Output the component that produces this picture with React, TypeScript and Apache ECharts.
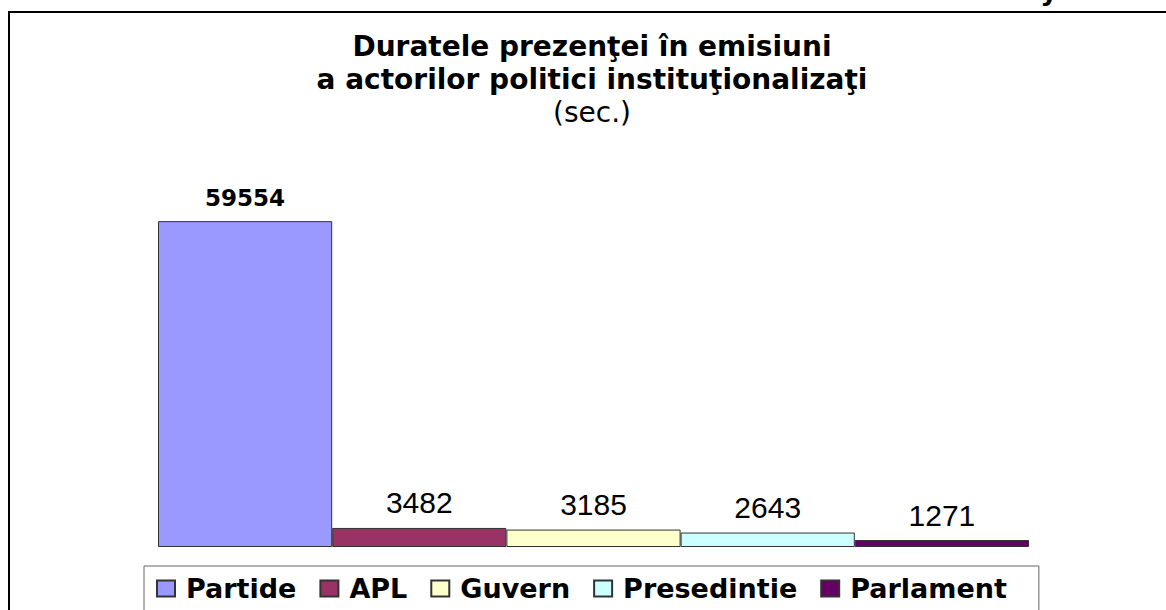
import React, { useEffect, useRef } from "react";
import * as echarts from "echarts";

const seriesNames = ["Partide", "APL", "Guvern", "Presedintie", "Parlament"];
const seriesValues = [59554, 3482, 3185, 2643, 1271];
const seriesColors = ["#9999FF", "#993366", "#FFFFCC", "#CCFFFF", "#660066"];
const categories = ["Durate"];
const titleLines = ["Duratele prezenţei în emisiuni", "a actorilor politici instituţionalizaţi"];
const subtitleText = "(sec.)";

export default function App() {
  const ref = useRef<HTMLDivElement>(null);
  useEffect(() => {
    if (!ref.current) return;
    const chart = echarts.init(ref.current, null, { renderer: "svg" });
    const series = seriesNames.map((name, i) => ({
      name,
      type: "bar",
      data: [seriesValues[i]],
      barGap: "0%",
      barCategoryGap: "0%",
      itemStyle: { color: seriesColors[i], borderColor: "#333333", borderWidth: 1 },
      label: {
        show: true,
        position: "top",
        distance: i === 0 ? 12 : 10,
        color: "#000",
        fontFamily: i === 0 ? "DejaVu Sans" : "Liberation Sans",
        fontWeight: i === 0 ? "bold" : "normal",
        fontSize: i === 0 ? 23 : 30,
      },
    }));
    chart.setOption({
      animation: false,
      backgroundColor: "#fff",
      title: {
        text: titleLines.join("\n"),
        subtext: subtitleText,
        left: 592,
        top: 30,
        textAlign: "center",
        itemGap: 0,
        padding: 0,
        textStyle: {
          fontFamily: "DejaVu Sans",
          fontWeight: "bold",
          fontSize: 28,
          lineHeight: 33,
          color: "#000",
        },
        subtextStyle: {
          fontFamily: "DejaVu Sans",
          fontSize: 28,
          lineHeight: 33,
          color: "#000",
        },
      },
      legend: {
        data: seriesNames,
        left: 144,
        top: 566,
        orient: "horizontal",
        padding: [9, 32, 12, 12],
        borderColor: "#666",
        borderWidth: 1,
        itemWidth: 18,
        itemHeight: 16,
        itemGap: 23,
        icon: "rect",
        textStyle: {
          fontFamily: "DejaVu Sans",
          fontWeight: "bold",
          fontSize: 27,
          color: "#000",
          padding: [0, 0, 0, 6],
        },
      },
      grid: { left: 158, right: 137, top: 164, bottom: 63 },
      xAxis: { type: "category", data: categories, show: false },
      yAxis: { type: "value", min: 0, max: 70000, show: false },
      series,
      graphic: [
        {
          type: "rect",
          shape: { x: 9, y: 12, width: 1400, height: 800 },
          style: { fill: "none", stroke: "#000", lineWidth: 2 },
          silent: true,
        },
        {
          type: "text",
          x: 1049,
          y: 4,
          style: {
            text: "y",
            font: "bold 27px 'DejaVu Sans'",
            fill: "#000",
            textAlign: "center",
            textVerticalAlign: "bottom",
          },
          silent: true,
        },
      ],
    });
    return () => chart.dispose();
  }, []);
  return (
    <div
      ref={ref}
      style={{ position: "absolute", left: 0, top: 0, width: 1166, height: 610 }}
    />
  );
}
